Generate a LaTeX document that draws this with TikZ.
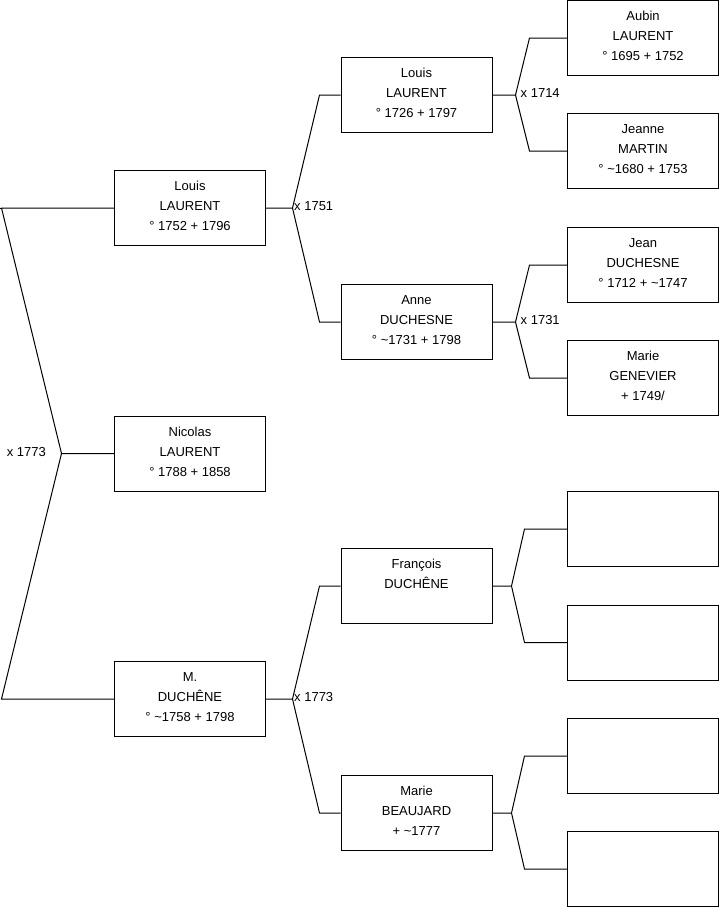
\documentclass[tikz,border=0pt]{standalone}
\usepackage{fontspec}
\setmainfont{Liberation Sans}
\begin{document}
\begin{tikzpicture}[x=1pt,y=-1pt,
  pbox/.style={draw=black, line width=1pt, minimum width=151pt, minimum height=75pt, inner sep=0pt},
  ptxt/.style={anchor=north, align=center, inner sep=0pt, font=\fontsize{13}{20}\selectfont},
  conn/.style={draw=black, line width=1pt},
  mlab/.style={inner sep=0pt, font=\fontsize{13}{16}\selectfont}]
\useasboundingbox (0,0) rectangle (719,908);
% generation 2
\node[pbox] (g2a) at (190,208) {};
\node[pbox] (g2b) at (190,453.5) {};
\node[pbox] (g2c) at (190,699) {};
% generation 3
\node[pbox] (g3a) at (416.5,95) {};
\node[pbox] (g3b) at (416.5,322) {};
\node[pbox] (g3c) at (416.5,586) {};
\node[pbox] (g3d) at (416.5,813) {};
% generation 4
\node[pbox] (g4a) at (643,38) {};
\node[pbox] (g4b) at (643,151) {};
\node[pbox] (g4c) at (643,265) {};
\node[pbox] (g4d) at (643,378) {};
\node[pbox] (g4e) at (643,529) {};
\node[pbox] (g4f) at (643,642.5) {};
\node[pbox] (g4g) at (643,756) {};
\node[pbox] (g4h) at (643,869) {};
% texts
\node[ptxt] (g2a-t) at ([yshift=-6.5pt]g2a.north) {\strut Louis\\LAURENT\\° 1752 + 1796};
\node[ptxt] (g2b-t) at ([yshift=-6.5pt]g2b.north) {\strut Nicolas\\LAURENT\\° 1788 + 1858};
\node[ptxt] (g2c-t) at ([yshift=-6.5pt]g2c.north) {\strut M.\\DUCHÊNE\\° \textasciitilde1758 + 1798};
\node[ptxt] (g3a-t) at ([yshift=-6.5pt]g3a.north) {\strut Louis\\LAURENT\\° 1726 + 1797};
\node[ptxt] (g3b-t) at ([yshift=-6.5pt]g3b.north) {\strut Anne\\DUCHESNE\\° \textasciitilde1731 + 1798};
\node[ptxt] (g3c-t) at ([yshift=-6.5pt]g3c.north) {\strut François\\DUCHÊNE};
\node[ptxt] (g3d-t) at ([yshift=-6.5pt]g3d.north) {\strut Marie\\BEAUJARD\\+ \textasciitilde1777};
\node[ptxt] (g4a-t) at ([yshift=-6.5pt]g4a.north) {\strut Aubin\\LAURENT\\° 1695 + 1752};
\node[ptxt] (g4b-t) at ([yshift=-6.5pt]g4b.north) {\strut Jeanne\\MARTIN\\° \textasciitilde1680 + 1753};
\node[ptxt] (g4c-t) at ([yshift=-6.5pt]g4c.north) {\strut Jean\\DUCHESNE\\° 1712 + \textasciitilde1747};
\node[ptxt] (g4d-t) at ([yshift=-6.5pt]g4d.north) {\strut Marie\\GENEVIER\\+ 1749/};
% root fork
\coordinate (f0) at ([xshift=-52.5pt]g2b.west);
\draw[conn] (g2b.west) -- (f0) -- ([xshift=-112.5pt]g2a.west) -- (g2a.west);
\draw[conn] (f0) -- ([xshift=-112.5pt]g2c.west) -- (g2c.west);
\draw[conn] ([xshift=-114.5pt]g2a.west) -- ([xshift=-112.5pt]g2a.west);
\node[mlab, anchor=east] (m0) at ([xshift=-15.5pt,yshift=1pt]f0) {x 1773};
% gen2 -> gen3
\coordinate (f1) at ([xshift=26.5pt]g2a.east);
\draw[conn] (g2a.east) -- (f1) -- ([xshift=-21pt]g3a.west) -- (g3a.west);
\draw[conn] (f1) -- ([xshift=-21pt]g3b.west) -- (g3b.west);
\node[mlab, anchor=west] (m1) at ([xshift=1.5pt,yshift=1.5pt]f1) {x 1751};
\coordinate (f2) at ([xshift=26.5pt]g2c.east);
\draw[conn] (g2c.east) -- (f2) -- ([xshift=-21pt]g3c.west) -- (g3c.west);
\draw[conn] (f2) -- ([xshift=-21pt]g3d.west) -- (g3d.west);
\node[mlab, anchor=west] (m2) at ([xshift=1.5pt,yshift=1.8pt]f2) {x 1773};
% gen3 -> gen4
\coordinate (f3) at ([xshift=23pt]g3a.east);
\draw[conn] (g3a.east) -- (f3) -- ([xshift=-37.5pt]g4a.west) -- (g4a.west);
\draw[conn] (f3) -- ([xshift=-37.5pt]g4b.west) -- (g4b.west);
\node[mlab, anchor=west] (m3) at ([xshift=5pt,yshift=1.5pt]f3) {x 1714};
\coordinate (f4) at ([xshift=23pt]g3b.east);
\draw[conn] (g3b.east) -- (f4) -- ([xshift=-37.5pt]g4c.west) -- (g4c.west);
\draw[conn] (f4) -- ([xshift=-37.5pt]g4d.west) -- (g4d.west);
\node[mlab, anchor=west] (m4) at ([xshift=5pt,yshift=1.5pt]f4) {x 1731};
\coordinate (f5) at ([xshift=19pt]g3c.east);
\draw[conn] (g3c.east) -- (f5) -- ([xshift=-42.5pt]g4e.west) -- (g4e.west);
\draw[conn] (f5) -- ([xshift=-42.5pt]g4f.west) -- (g4f.west);
\coordinate (f6) at ([xshift=19pt]g3d.east);
\draw[conn] (g3d.east) -- (f6) -- ([xshift=-42.5pt]g4g.west) -- (g4g.west);
\draw[conn] (f6) -- ([xshift=-42.5pt]g4h.west) -- (g4h.west);
\end{tikzpicture}
\end{document}
